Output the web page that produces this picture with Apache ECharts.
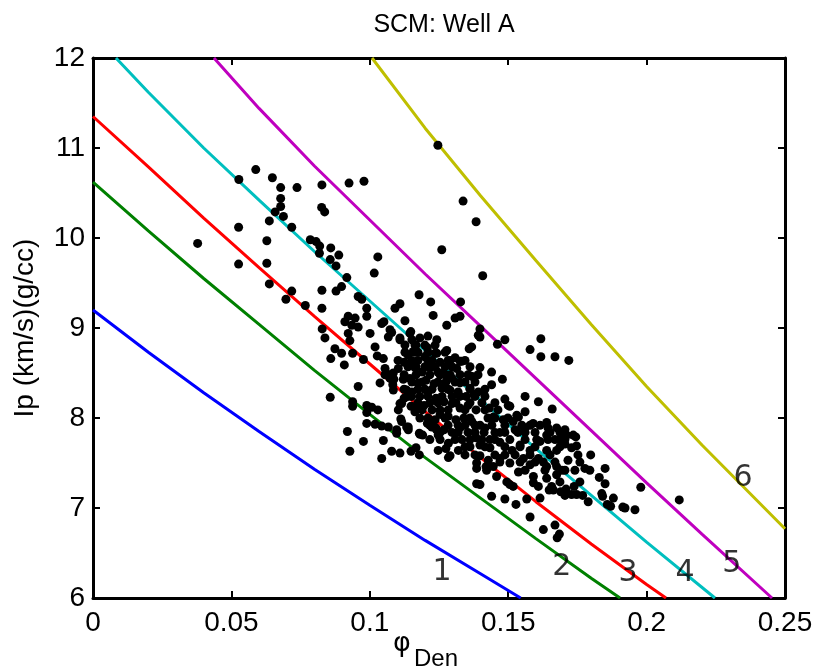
<!DOCTYPE html>
<html><head><meta charset="utf-8">
<script src="https://cdn.jsdelivr.net/npm/echarts@6/dist/echarts.min.js"></script>
<style>html,body{margin:0;padding:0;background:#fff}#c{width:819px;height:672px}</style>
</head><body><div id="c"></div>
<script>
const titleText = 'SCM: Well A';
const yAxisName = 'Ip (km/s)(g/cc)';
const xTicks = {min: 0, max: 0.25, interval: 0.05};
const yTicks = {min: 6, max: 12, interval: 1};

const curve1 = [[0,9.2],[0.02,8.73],[0.04,8.28],[0.06,7.85],[0.08,7.43],[0.10,7.03],[0.12,6.64],[0.14,6.27],[0.1545,6.0]];
const curve2 = [[0,10.62],[0.02,10.08],[0.04,9.55],[0.06,9.04],[0.08,8.53],[0.10,8.04],[0.12,7.56],[0.14,7.11],[0.16,6.66],[0.18,6.22],[0.1904,6.0]];
const curve3 = [[0,11.35],[0.02,10.79],[0.04,10.22],[0.06,9.67],[0.08,9.13],[0.10,8.60],[0.12,8.07],[0.14,7.56],[0.16,7.07],[0.18,6.60],[0.20,6.15],[0.207,6.0]];
const curve4 = [[0.0083,12],[0.02,11.62],[0.04,11.0],[0.06,10.42],[0.08,9.85],[0.10,9.3],[0.12,8.75],[0.14,8.2],[0.16,7.66],[0.18,7.14],[0.20,6.62],[0.2247,6.0]];
const curve5 = [[0.0437,12],[0.06,11.44],[0.08,10.8],[0.10,10.2],[0.12,9.6],[0.14,9.02],[0.16,8.44],[0.18,7.86],[0.20,7.28],[0.22,6.71],[0.2453,6.0]];
const curve6 = [[0.1008,12],[0.12,11.22],[0.14,10.47],[0.16,9.75],[0.18,9.04],[0.20,8.35],[0.22,7.7],[0.25,6.77]];
const curveColors = ['#0000ff','#008000','#ff0000','#00bfbf','#bf00bf','#bfbf00'];

const curveLabels = ['1','2','3','4','5','6'];
const labelPos = [[0.1261,6.29],[0.1694,6.34],[0.1933,6.28],[0.2139,6.27],[0.2308,6.37],[0.2348,7.33]];

const wellA = [
[0.0588,10.76],[0.0527,10.65],[0.0648,10.67],[0.0678,10.56],[0.0737,10.56],[0.0827,10.59],[0.0925,10.61],[0.0979,10.63],
[0.0678,10.44],[0.0678,10.35],[0.0658,10.29],[0.0826,10.34],[0.0837,10.29],[0.0688,10.24],[0.0637,10.19],[0.0718,10.12],
[0.0526,10.12],[0.0378,9.94],[0.0628,9.97],[0.0785,9.98],[0.0806,9.96],[0.0819,9.91],[0.0818,9.83],[0.0526,9.71],
[0.0628,9.72],[0.0637,9.49],[0.0718,9.41],[0.0697,9.32],[0.0827,9.42],[0.0767,9.25],[0.0827,9.22],[0.0828,8.99],
[0.0838,8.89],[0.0859,8.66],[0.0857,8.23],
[0.0859,9.89],[0.0888,9.81],[0.0857,9.76],[0.0878,9.69],[0.0917,9.56],[0.1029,9.79],[0.1016,9.61],[0.1260,9.87],
[0.0878,9.41],[0.0898,9.46],[0.0958,9.35],[0.0971,9.32],[0.1178,9.37],[0.1220,9.29],[0.1109,9.27],[0.1091,9.22],
[0.0989,9.22],[0.0989,9.13],[0.1328,9.29],[0.1229,9.14],[0.1308,9.11],[0.1278,9.03],[0.1127,9.08],[0.1043,9.05],
[0.1051,9.07],[0.0922,9.13],[0.0947,9.11],[0.0910,9.07],[0.0935,9.03],[0.0958,9.01],[0.1073,8.98],[0.1079,8.95],
[0.1145,8.94],[0.1001,8.94],[0.1067,8.90],[0.1109,8.87],[0.0928,8.86],[0.1242,8.87],[0.1392,8.92],[0.1167,8.81],
[0.1019,8.79],[0.1208,8.78],[0.1278,8.75],[0.1368,8.79],[0.0874,8.77],[0.0898,8.72],[0.0938,8.72],[0.0977,8.65],
[0.1027,8.69],[0.1049,8.66],[0.0908,8.59],[0.1151,8.64],[0.1242,8.72],[0.1314,8.55],[0.1359,8.47],[0.1266,8.50],
[0.1103,8.55],[0.1055,8.55],[0.1085,8.50],[0.1145,8.59],[0.0922,8.94],[0.1408,9.58],[0.1337,10.41],[0.1384,10.18],
[0.1246,11.03],[0.1326,9.13],
[0.1398,8.99],[0.1398,8.90],[0.1461,8.82],[0.1488,8.87],[0.1618,8.88],[0.1579,8.76],[0.1618,8.68],[0.1669,8.68],
[0.1719,8.64],[0.1359,8.77],[0.1332,8.63],[0.1398,8.56],[0.1440,8.51],[0.1370,8.46],[0.1479,8.43],[0.1440,8.37],
[0.1326,8.39],[0.1362,8.33],[0.1392,8.29],[0.1488,8.21],[0.1561,8.24],[0.1609,8.18],[0.1506,8.13],[0.1659,8.10],
[0.1561,8.07],[0.1639,7.95],[0.1675,7.89],[0.1537,8.01],[0.1549,7.92],[0.1432,8.11],[0.1446,8.01],[0.1482,7.98],
[0.1518,7.96],
[0.0958,8.35],[0.0938,8.18],[0.0938,8.13],[0.0989,8.14],[0.1007,8.12],[0.1029,8.09],[0.0989,8.06],[0.0989,7.94],
[0.1019,7.93],[0.1043,7.91],[0.1067,7.90],[0.1097,7.87],[0.1097,7.83],[0.1112,7.99],[0.1115,7.96],[0.1139,7.90],
[0.1139,7.87],[0.1103,8.09],[0.1115,8.16],[0.1083,8.37],[0.1085,8.31],[0.1055,8.48],[0.1073,8.44],[0.0919,7.85],
[0.0977,7.74],[0.1049,7.75],[0.0928,7.63],[0.1043,7.55],[0.1079,7.63],[0.1149,7.63],[0.1179,7.59],[0.1167,7.67],
[0.1179,7.83],[0.1191,7.81],[0.1217,7.76],[0.1247,7.81],[0.1208,7.94],[0.1236,7.98],[0.1247,7.64],[0.1275,7.66],
[0.1284,7.56],[0.1320,7.64],[0.1344,7.59],[0.1380,7.59],[0.1386,7.44],[0.1386,7.27],[0.1109,8.16],[0.1149,8.13],
[0.1167,8.13],[0.1151,8.24],[0.1133,8.31],[0.1037,8.39],[0.1059,8.50],[0.1087,8.43],[0.1157,8.74],
[0.1127,8.81],[0.1152,8.87],[0.1181,8.89],[0.1210,8.91],[0.1138,8.70],[0.1174,8.73],[0.1199,8.68],[0.1225,8.64],
[0.1254,8.62],[0.1283,8.64],[0.1308,8.67],[0.1124,8.62],[0.1163,8.56],[0.1189,8.51],[0.1217,8.56],[0.1246,8.51],
[0.1272,8.48],[0.1297,8.44],[0.1326,8.48],[0.1145,8.44],[0.1174,8.39],[0.1203,8.42],[0.1232,8.38],[0.1261,8.33],
[0.1290,8.31],[0.1319,8.29],[0.1348,8.24],[0.1376,8.26],[0.1152,8.29],[0.1181,8.24],[0.1210,8.29],[0.1239,8.22],
[0.1268,8.18],[0.1297,8.16],[0.1326,8.11],[0.1355,8.14],[0.1384,8.09],[0.1196,8.14],[0.1225,8.09],[0.1254,8.04],
[0.1283,8.02],[0.1311,7.98],[0.1340,8.00],[0.1369,7.96],[0.1398,7.92],[0.1124,8.22],[0.1163,8.07],[0.1210,8.00],
[0.1239,7.89],[0.1268,7.87],[0.1297,7.84],[0.1326,7.89],[0.1355,7.84],[0.1384,7.78],[0.1413,7.84],[0.1434,7.76],
[0.1148,8.96],[0.1109,8.89],[0.1236,8.72],[0.1167,8.57],[0.1326,8.63],[0.1121,8.43],[0.1500,8.14],[0.1531,8.03],
[0.1590,7.94],[0.1711,7.81],[0.1735,7.81],[0.1744,7.79],[0.1747,7.69],[0.1729,7.67],[0.1705,7.71],[0.1687,7.76],
[0.1639,7.81],[0.1675,7.64],[0.1639,7.64],[0.1615,7.74],[0.1603,7.76],[0.1627,7.51],[0.1639,7.46],[0.1675,7.46],
[0.1609,7.55],[0.1591,7.35],[0.1639,7.33],[0.1675,7.37],[0.1657,7.24],[0.1687,7.29],[0.1738,7.24],[0.1759,7.29],
[0.1798,7.59],[0.1850,7.44],[0.1829,7.34],[0.1850,7.27],[0.1838,7.16],[0.1841,7.13],[0.1690,7.18],[0.1709,7.21],
[0.1729,7.15],[0.1747,7.15],[0.1769,7.14],[0.1789,7.07],[0.1858,7.04],[0.1870,7.02],[0.1880,7.11],[0.1914,7.01],
[0.1922,7.00],[0.1958,6.98],[0.1979,7.23],[0.2118,7.09],[0.1398,7.26],[0.1440,7.13],[0.1488,7.10],[0.1528,7.04],
[0.1567,7.10],[0.1579,6.90],[0.1458,7.35],[0.1495,7.29],[0.1506,7.26],[0.1420,7.46],[0.1537,7.40],[0.1669,6.81],
[0.1627,6.76],[0.1685,6.71],[0.1677,6.67],[0.1109,7.61],[0.1290,7.58],[0.1133,7.90],[0.1181,7.82],[0.1254,7.76],
[0.1284,7.72],[0.1241,7.87],[0.1224,7.90],[0.1398,7.58],[0.1386,7.50],[0.1428,7.53],[0.1470,7.55],[0.1506,7.50],
[0.1555,7.55],[0.1422,7.42],[0.1446,7.46],[0.1705,7.14],[0.1663,7.20],[0.1648,7.20],[0.1591,7.28],[0.1609,7.24],
[0.1615,7.11],[0.1518,7.24],
[0.1344,7.92],[0.1416,7.89],[0.1452,7.84],[0.1488,7.92],[0.1525,7.87],[0.1561,7.89],[0.1597,7.84],[0.1362,7.76],
[0.1398,7.70],[0.1434,7.67],[0.1470,7.73],[0.1506,7.76],[0.1543,7.70],[0.1579,7.64],[0.1344,7.68],[0.1470,7.84],
[0.1514,7.64],[0.1452,7.59],[0.1543,7.51],[0.1579,7.48],[0.1705,7.87],[0.1669,7.76],[0.1644,7.89],[0.1716,7.53],
[0.1741,7.42],[0.1777,7.44],[0.1694,7.42],
[0.1163,8.81],[0.1199,8.81],[0.1236,8.81],
[0.1127,8.73],[0.1163,8.73],[0.1210,8.73],[0.1272,8.73],
[0.1102,8.64],[0.1174,8.64],[0.1210,8.64],[0.1290,8.64],[0.1344,8.64],
[0.1138,8.57],[0.1199,8.57],[0.1236,8.57],[0.1272,8.57],[0.1297,8.57],[0.1362,8.57],
[0.1124,8.48],[0.1167,8.48],[0.1217,8.48],[0.1254,8.48],[0.1290,8.48],[0.1355,8.48],[0.1391,8.48],
[0.1152,8.40],[0.1189,8.40],[0.1246,8.40],[0.1275,8.40],[0.1308,8.40],[0.1344,8.40],[0.1380,8.40],
[0.1124,8.32],[0.1174,8.32],[0.1199,8.32],[0.1225,8.32],[0.1283,8.32],[0.1362,8.32],[0.1416,8.32],
[0.1138,8.24],[0.1210,8.24],[0.1261,8.24],[0.1297,8.24],[0.1326,8.24],[0.1380,8.24],[0.1416,8.24],
[0.1174,8.17],[0.1217,8.17],[0.1246,8.17],[0.1311,8.17],[0.1362,8.17],[0.1405,8.17],[0.1452,8.17],
[0.1189,8.09],[0.1254,8.09],[0.1283,8.09],[0.1344,8.09],[0.1416,8.09],[0.1463,8.09],
[0.1181,8.00],[0.1272,8.00],[0.1362,8.00],[0.1427,8.00],[0.1452,8.00],[0.1499,8.00],
[0.1217,7.92],[0.1283,7.92],[0.1319,7.92],[0.1380,7.92],[0.1441,7.92],[0.1579,7.92],[0.1615,7.92],
[0.1254,7.84],[0.1319,7.84],[0.1380,7.84],[0.1488,7.84],[0.1535,7.84],[0.1561,7.84],[0.1651,7.84],[0.1687,7.84],
[0.1308,7.76],[0.1333,7.76],[0.1405,7.76],[0.1452,7.76],[0.1561,7.76],[0.1644,7.76],[0.1705,7.76],
[0.1362,7.68],[0.1416,7.68],[0.1488,7.68],[0.1543,7.68],[0.1597,7.68],[0.1687,7.68],
[0.1488,7.59],[0.1525,7.59],[0.1579,7.59],[0.1651,7.59],[0.1752,7.59],
[0.1470,7.51],[0.1597,7.51],[0.1669,7.51],[0.1759,7.51],
[0.1561,7.42],[0.1633,7.42],[0.1705,7.42],[0.1795,7.42]
];

const FONT = 'Liberation Sans';
const chart = echarts.init(document.getElementById('c'), null, {renderer: 'canvas'});
const curves = [curve1, curve2, curve3, curve4, curve5, curve6];
const series = curves.map((d, i) => ({
  type: 'line', data: d, showSymbol: false, symbol: 'none', clip: true,
  lineStyle: {color: curveColors[i], width: 3}, z: 2, silent: true
}));
series.push({
  type: 'scatter', data: wellA, symbol: 'circle', symbolSize: 9,
  itemStyle: {color: '#000', opacity: 1}, z: 3, silent: true
});
series.push({
  type: 'scatter', data: labelPos.map((p, i) => ({value: p, name: curveLabels[i]})),
  symbolSize: 0, z: 4, silent: true,
  label: {show: true, position: 'inside', formatter: p => p.name, color: '#000',
    textBorderWidth: 0, fontSize: 30, fontFamily: 'DejaVu Sans'}
});

const axisCommon = {
  type: 'value', splitLine: {show: false},
  axisLine: {show: true, onZero: false, lineStyle: {color: '#000', width: 3}},
  axisTick: {show: true, inside: true, length: 7, lineStyle: {color: '#000', width: 2}}
};

chart.setOption({
  animation: false,
  backgroundColor: '#fff',
  title: {text: titleText, left: 439, top: 8, textAlign: 'center',
    textStyle: {fontFamily: FONT, fontWeight: 'normal', fontSize: 25, color: '#000'}},
  grid: {left: 93, right: 34, top: 58, bottom: 74, show: false},
  xAxis: [
    Object.assign({}, axisCommon, {position: 'bottom', min: xTicks.min, max: xTicks.max, interval: xTicks.interval,
      axisLabel: {fontFamily: FONT, fontSize: 28, color: '#000', margin: 11}}),
    Object.assign({}, axisCommon, {position: 'top', min: xTicks.min, max: xTicks.max, interval: xTicks.interval,
      axisLabel: {show: false}})
  ],
  yAxis: [
    Object.assign({}, axisCommon, {position: 'left', min: yTicks.min, max: yTicks.max, interval: yTicks.interval,
      name: yAxisName, nameLocation: 'middle', nameGap: 54,
      nameTextStyle: {fontFamily: FONT, fontSize: 28, color: '#000'},
      axisLabel: {fontFamily: FONT, fontSize: 28, color: '#000', margin: 8}}),
    Object.assign({}, axisCommon, {position: 'right', min: yTicks.min, max: yTicks.max, interval: yTicks.interval,
      axisLabel: {show: false}})
  ],
  graphic: [
    {type: 'text', left: 393, top: 630, style: {text: 'φ', font: '27px "DejaVu Sans"', fill: '#000'}},
    {type: 'text', left: 414, top: 647, style: {text: 'Den', font: '24px "Liberation Sans"', fill: '#000'}}
  ],
  series: series
});
</script></body></html>
